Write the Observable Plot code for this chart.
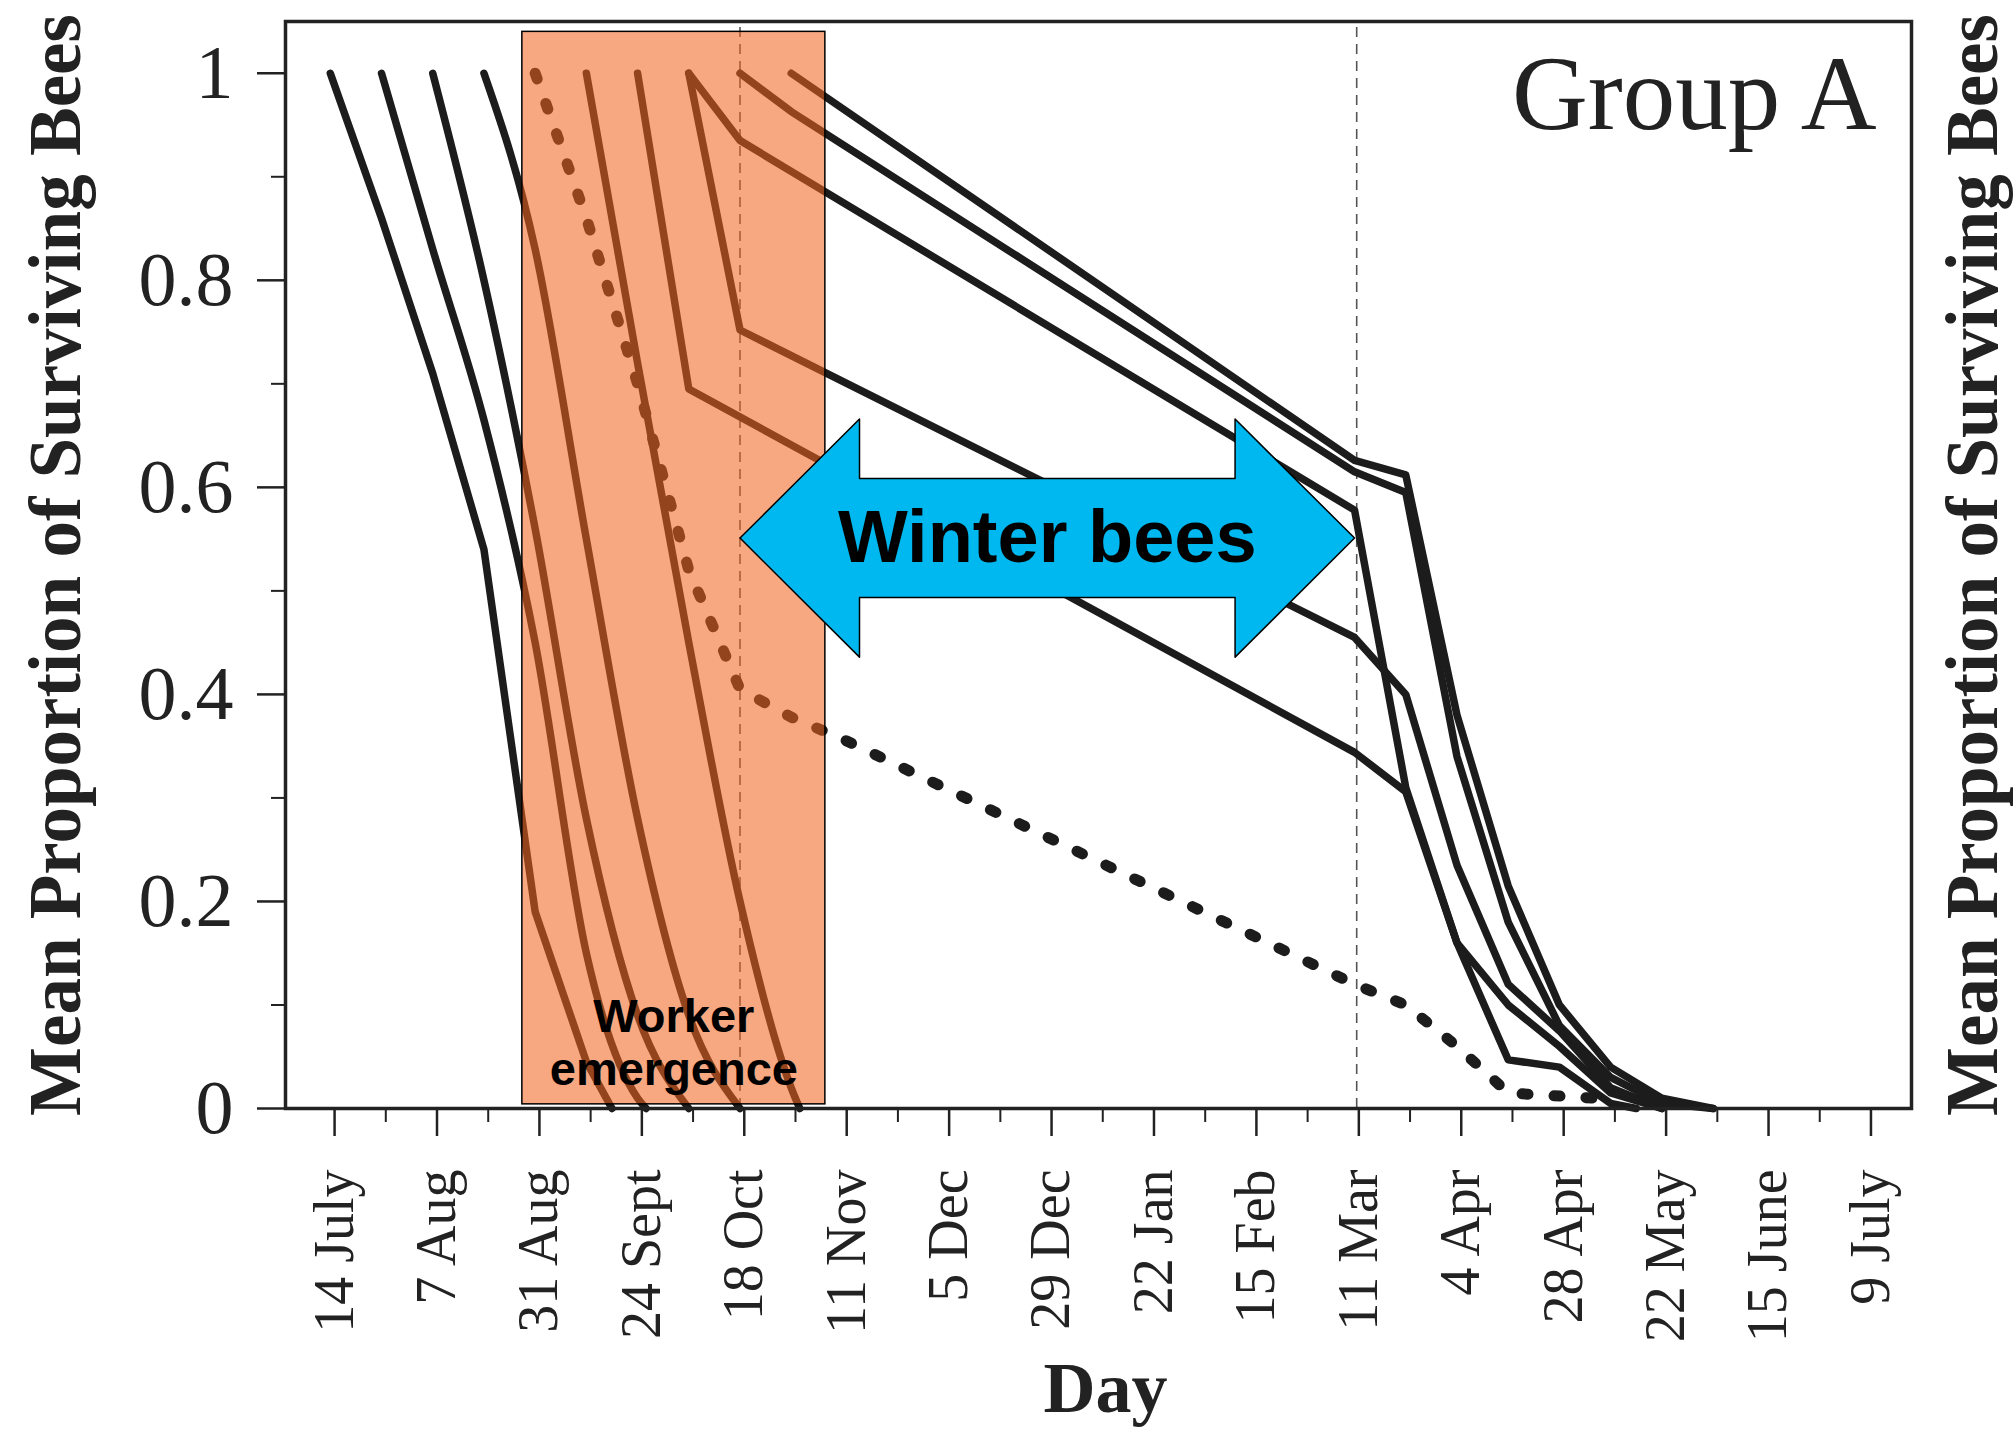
<!DOCTYPE html>
<html>
<head>
<meta charset="utf-8">
<script src="https://cdn.jsdelivr.net/npm/d3@7"></script>
<script src="https://cdn.jsdelivr.net/npm/@observablehq/plot@0.6"></script>
<style>
  html, body { margin: 0; padding: 0; background: #ffffff; }
  #chart svg { display: block; }
</style>
</head>
<body>
<div id="chart"></div>
<script>
// ---------- axis ticks (x in days after 14 July) ----------
const tickDays = [0, 24, 48, 72, 96, 120, 144, 168, 192, 216, 240, 264, 288, 312, 336, 360];
const tickLabels = ["14 July", "7 Aug", "31 Aug", "24 Sept", "18 Oct", "11 Nov", "5 Dec", "29 Dec",
  "22 Jan", "15 Feb", "11 Mar", "4 Apr", "28 Apr", "22 May", "15 June", "9 July"];
const minorTickDays = [12, 36, 60, 84, 108, 132, 156, 180, 204, 228, 252, 276, 300, 324, 348];
const yTicks = [0, 0.2, 0.4, 0.6, 0.8, 1];
const yTickLabels = ["0", "0.2", "0.4", "0.6", "0.8", "1"];
const yMinorTicks = [0.1, 0.3, 0.5, 0.7, 0.9];

// ---------- summer cohorts (die before winter): [day, mean proportion surviving] ----------
const cohort1 = [[-1, 1], [11, 0.86], [23, 0.71], [35, 0.54], [47, 0.19], [59, 0.045], [65, 0]];
const cohort2 = [[11, 1], [23, 0.83], [35, 0.665], [47, 0.45], [59, 0.15], [71, 0.01], [73, 0]];
const cohort3 = [[23, 1], [35, 0.80], [47, 0.56], [59, 0.28], [71, 0.09], [83, 0]];
const cohort4 = [[35, 1], [47, 0.83], [59, 0.55], [71, 0.28], [83, 0.09], [95, 0]];
const cohort6 = [[59, 1], [71, 0.72], [83, 0.45], [95, 0.20], [107, 0.02], [109, 0]];
// ---------- winter cohorts ----------
const cohort7 = [[71, 1], [83, 0.695], [239, 0.344], [251, 0.306], [263, 0.16], [275, 0.10], [287, 0.06], [299, 0.015], [311, 0]];
const cohort8a = [[83, 1], [95, 0.752], [239, 0.455], [251, 0.40], [263, 0.235], [275, 0.12], [287, 0.075], [299, 0.02], [311, 0]];
const cohort8b = [[83, 1], [95, 0.935], [239, 0.578], [251, 0.31], [263, 0.16], [275, 0.047], [287, 0.04], [299, 0.005], [305, 0]];
const cohort9 = [[95, 1], [107, 0.963], [239, 0.615], [251, 0.595], [263, 0.34], [275, 0.18], [287, 0.08], [299, 0.03], [311, 0.005], [323, 0]];
const cohort10 = [[107, 1], [239, 0.626], [251, 0.612], [263, 0.38], [275, 0.215], [287, 0.10], [299, 0.04], [311, 0.01], [323, 0]];
// dotted curve (cohort emerging 31 Aug)
const cohort5 = [[47, 1], [59, 0.86], [71, 0.70], [83, 0.52], [95, 0.405], [107, 0.378], [119, 0.357],
  [239, 0.12], [251, 0.10], [263, 0.06], [275, 0.015], [295, 0.01]];

// ---------- annotations (in data units) ----------
const referenceDays = [95, 239.5];              // dashed vertical markers
const emergenceWindow = {x1: 44, x2: 115, y1: 0.004, y2: 1.04};
const winterSpan = {from: 95, to: 239, center: 0.551, head: 0.115, body: 0.0575, headLength: 28};
const groupLabel = "Group A";
const yTitle = "Mean Proportion of Surviving Bees";
const xTitle = "Day";

// ---------- build tables ----------
const toRows = (series) => Object.entries(series).flatMap(([name, pts]) =>
  pts.map(([day, value]) => ({series: name, day, value})));
const smoothRows = toRows({cohort2, cohort3, cohort4, cohort6});
const angularRows = toRows({cohort1, cohort7, cohort8a, cohort8b, cohort9, cohort10});
const dottedRows = cohort5.map(([day, value]) => ({day, value}));

const w = winterSpan;
const arrow = [
  [w.from, w.center],
  [w.from + w.headLength, w.center + w.head],
  [w.from + w.headLength, w.center + w.body],
  [w.to - w.headLength, w.center + w.body],
  [w.to - w.headLength, w.center + w.head],
  [w.to, w.center],
  [w.to - w.headLength, w.center - w.head],
  [w.to - w.headLength, w.center - w.body],
  [w.from + w.headLength, w.center - w.body],
  [w.from + w.headLength, w.center - w.head]
].map(([day, value]) => ({day, value}));

const serif = "'Liberation Serif', 'Times New Roman', serif";
const sans = "'Liberation Sans', Arial, sans-serif";
const ink = "#1c1c1c";

const chart = Plot.plot({
  width: 2015,
  height: 1429,
  marginLeft: 285,
  marginRight: 104,
  marginTop: 21,
  marginBottom: 321,
  x: {domain: [-11.5, 369.5]},
  y: {domain: [0, 1.05]},
  style: {background: "#ffffff", color: ink, fontFamily: serif},
  marks: [
    // dashed reference lines
    Plot.ruleX(referenceDays, {y1: 0, y2: 1.05, stroke: "#555", strokeWidth: 1.6, strokeDasharray: "10,7"}),
    // survival curves
    Plot.line(smoothRows, {x: "day", y: "value", z: "series", curve: "monotone-x", stroke: ink, strokeWidth: 7.5,
      strokeLinejoin: "round", strokeLinecap: "round"}),
    Plot.line(angularRows, {x: "day", y: "value", z: "series", stroke: ink, strokeWidth: 7.5,
      strokeLinejoin: "round", strokeLinecap: "round"}),
    Plot.line(dottedRows, {x: "day", y: "value", stroke: ink, strokeWidth: 11,
      strokeDasharray: "6,26", strokeLinecap: "round"}),
    // worker emergence window
    Plot.rect([emergenceWindow], {x1: "x1", x2: "x2", y1: "y1", y2: "y2",
      fill: "rgb(240,100,30)", fillOpacity: 0.56, stroke: "#000", strokeWidth: 1.5}),
    Plot.text(["Worker\nemergence"], {x: (emergenceWindow.x1 + emergenceWindow.x2) / 2, frameAnchor: "bottom",
      dy: -24, lineAnchor: "bottom", lineHeight: 1.12, fontFamily: sans, fontWeight: "bold", fontSize: 47, fill: "#000"}),
    // winter bees arrow
    Plot.line(arrow, {x: "day", y: "value", curve: "linear-closed", fill: "#00B8F0", stroke: "#000", strokeWidth: 1.5}),
    Plot.text(["Winter bees"], {x: (w.from + w.to) / 2, y: w.center, lineAnchor: "middle",
      fontFamily: sans, fontWeight: "bold", fontSize: 74, fill: "#000"}),
    // frame and axes
    Plot.frame({stroke: "#222", strokeWidth: 3.5}),
    Plot.axisY({ticks: yTicks, tickFormat: (d, i) => yTickLabels[i], tickSize: 28, tickPadding: 24,
      fontSize: 76, fontFamily: serif, fill: "#222", stroke: "#222", strokeWidth: 2.5}),
    Plot.axisY({ticks: yMinorTicks, tickFormat: () => "", tickSize: 14, stroke: "#222", strokeWidth: 2}),
    Plot.axisX({ticks: tickDays, tickFormat: (d, i) => tickLabels[i], tickRotate: -90, tickSize: 28,
      tickPadding: 33, fontSize: 56, fontFamily: serif, fill: "#222", stroke: "#222", strokeWidth: 2.5}),
    Plot.axisX({ticks: minorTickDays, tickFormat: () => "", tickSize: 14, stroke: "#222", strokeWidth: 2}),
    // titles
    Plot.text([yTitle], {frameAnchor: "left", dx: -229, rotate: -90, textAnchor: "middle", lineAnchor: "middle",
      fontFamily: serif, fontWeight: "bold", fontSize: 73, fill: "#222"}),
    Plot.text([yTitle], {frameAnchor: "right", dx: 62, rotate: -90, textAnchor: "middle", lineAnchor: "middle",
      fontFamily: serif, fontWeight: "bold", fontSize: 73, fill: "#222"}),
    Plot.text([xTitle], {frameAnchor: "bottom", dx: 7, dy: 303, lineAnchor: "bottom",
      fontFamily: serif, fontWeight: "bold", fontSize: 72, fill: "#222"}),
    Plot.text([groupLabel], {frameAnchor: "top-right", dx: -35, dy: 107, textAnchor: "end", lineAnchor: "bottom",
      fontFamily: serif, fontSize: 105, fill: "#222"})
  ]
});
document.getElementById("chart").append(chart);
</script>
</body>
</html>
